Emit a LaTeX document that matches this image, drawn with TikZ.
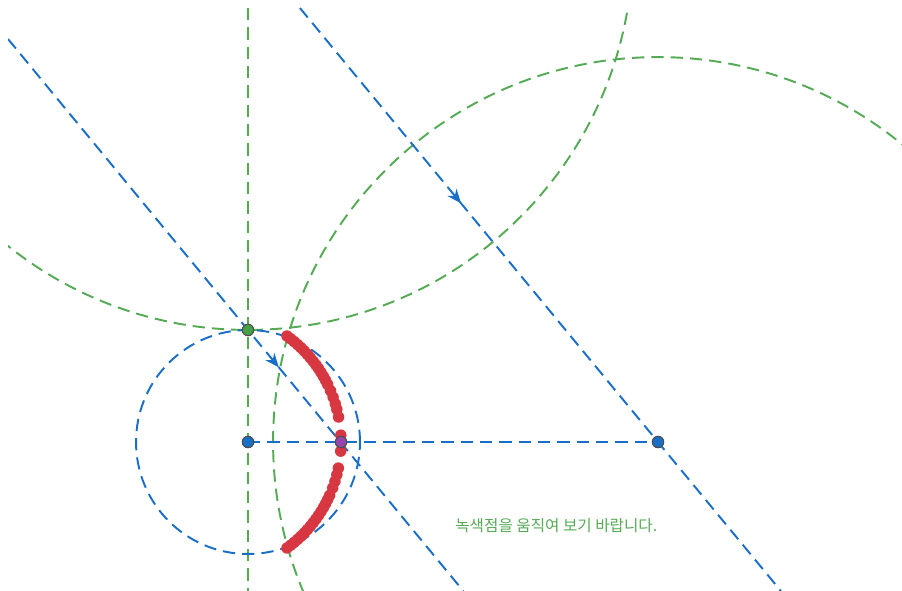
\documentclass[tikz,border=0pt]{standalone}
\usepackage{fontspec}
\newfontfamily\kofont{Noto Sans CJK KR}
\usetikzlibrary{arrows.meta, decorations.markings}

\definecolor{geoblue}{RGB}{25,110,200}
\definecolor{geogreen}{RGB}{85,170,85}
\definecolor{locusred}{RGB}{215,55,65}
\definecolor{ptgreen}{RGB}{70,160,70}
\definecolor{ptpurple}{RGB}{150,70,170}

\begin{document}
\begin{tikzpicture}[x=0.02cm, y=-0.02cm,
  guide/.style={geogreen, line width=1.1pt, dash pattern=on 7pt off 4pt},
  ray/.style={geoblue, line width=1.1pt, dash pattern=on 7pt off 4pt},
  pt/.style={circle, draw=black!70, line width=0.6pt, inner sep=0pt, minimum size=0.23cm},
  flow/.style={postaction={decorate}, decoration={markings,
    mark=at position #1 with {\arrow{Stealth[length=8pt, width=6.5pt, inset=2.5pt]}}}},
  note/.style={font=\kofont\fontsize{8.9}{10}\selectfont, text=geogreen, inner sep=0pt}]
\useasboundingbox (0,0) rectangle (902,591);
% points of the construction
\coordinate (O) at (248,442);
\coordinate (G) at (248,330);
\coordinate (P) at (658,442);
\coordinate (M) at (341,442);
\coordinate (C1) at (248,-55);
\coordinate (vtop) at (248,8);
\coordinate (vbot) at (248,591);
\coordinate (L1a) at (8,39);
\coordinate (L1b) at (463.3,591);
\coordinate (L2a) at (299.9,8);
\coordinate (L2b) at (780.9,591);
\begin{scope}
\clip (8,8) rectangle (902,591);
\draw [guide] (vtop) -- (vbot);
\draw [guide] (C1) circle [radius=7.7cm];
\draw [guide] (P) circle [radius=7.7cm];
\draw [ray] (O) circle [radius=2.24cm];
\draw [ray] (O) -- (P);
\draw [ray, flow=0.595] (L1a) -- (L1b);
\draw [ray, flow=0.335] (L2a) -- (L2b);
\end{scope}
% locus
\foreach \a in {54,52,...,26,23,20,17,14.5,11,3,-4,-11.5,-14.5,-17.5,-20.5,-24,-26,-28,...,-54} {
  \fill [locusred] ({210+131*cos(\a)},{442-131*sin(\a)}) circle [radius=0.115cm];
}
\node [pt, fill=geoblue] (Odot) at (O) {};
\node [pt, fill=ptgreen] (Gdot) at (G) {};
\node [pt, fill=geoblue] (Pdot) at (P) {};
\node [pt, fill=ptpurple] (Mdot) at (M) {};
\node [note, anchor=west] (msg) at (455,526) {녹색점을 움직여 보기 바랍니다.};
\end{tikzpicture}
\end{document}
